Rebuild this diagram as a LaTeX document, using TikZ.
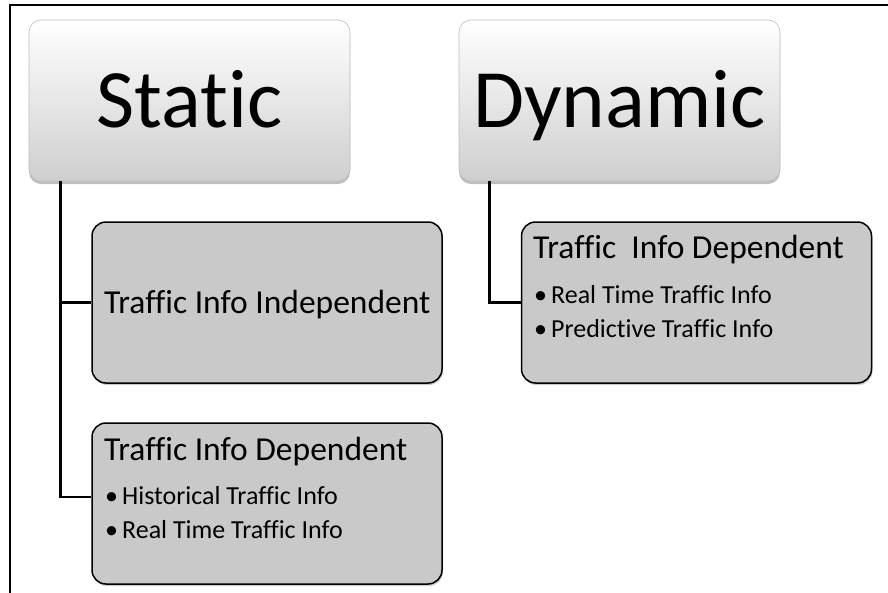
\documentclass[tikz,border=0pt]{standalone}
\usepackage{fontspec}
\setmainfont{Carlito}[Ligatures={NoCommon}]
\usetikzlibrary{shadows}
\definecolor{boxgray}{HTML}{C9C9C9}
\definecolor{rimgray}{HTML}{BDBDBD}
\newcommand{\bul}{\textbullet\hspace{4pt}}
\tikzset{
  head/.style={rectangle, rounded corners=12pt, draw=rimgray, line width=0.6pt,
    top color=white, middle color=white!96!black, bottom color=black!19,
    minimum width=321pt, minimum height=161pt, inner sep=0pt,
    text height=60pt, text depth=7pt,
    drop shadow={shadow xshift=0pt, shadow yshift=-3pt, opacity=0.25, fill=black},
    font=\fontsize{83}{96}\selectfont},
  leaf/.style={rectangle, rounded corners=14pt, draw=black, line width=1.5pt,
    fill=boxgray, minimum width=350pt, minimum height=161pt, inner sep=0pt,
    drop shadow={shadow xshift=1pt, shadow yshift=-2pt, opacity=0.2, fill=black}},
  title/.style={anchor=base west, inner sep=0pt, font=\fontsize{33.5}{40}\selectfont},
  item/.style={anchor=base west, inner sep=0pt, font=\fontsize{26}{31}\selectfont},
  conn/.style={draw=black, line width=2.5pt},
  frame/.style={draw=black, line width=2pt}
}
\begin{document}
\begin{tikzpicture}[x=1pt, y=-1pt]
\useasboundingbox (0,0) rectangle (888,592);
\fill[white] (0,0) rectangle (888,592);
% outer frame: top and left edges only
\draw[frame] (10,593) -- (10,5) -- (889,5);

% top-level categories
\node[head] (static)  at (189.5,100.5) {Static};
\node[head] (dynamic) at (619.5,100.5) {Dynamic};

% sub-boxes
\node[leaf] (indep) at (267,302.5) {};
\node[leaf] (depl)  at (267,503.5) {};
\node[leaf] (depr)  at (696.5,302.5) {};

% texts inside the sub-boxes
\node[title] (tIndep) at (104,313) {Traffic Info Independent};

\node[title] (tDepL) at (104,460) {Traffic Info Dependent};
\node[item]  (iL1)   at (105,504) {\bul Historical Traffic Info};
\node[item]  (iL2)   at (105,538) {\bul Real Time Traffic Info};

\node[title] (tDepR) at (533,258) {Traffic~ Info Dependent};
\node[item]  (iR1)   at (534,303) {\bul Real Time Traffic Info};
\node[item]  (iR2)   at (534,337) {\bul Predictive Traffic Info};

% connectors
\draw[conn] ([xshift=32pt]static.south west) |- (indep.west);
\draw[conn] ([xshift=32pt]static.south west) |- ([yshift=6.5pt]depl.west);
\draw[conn] ([xshift=31pt]dynamic.south west) |- (depr.west);
\end{tikzpicture}
\end{document}
